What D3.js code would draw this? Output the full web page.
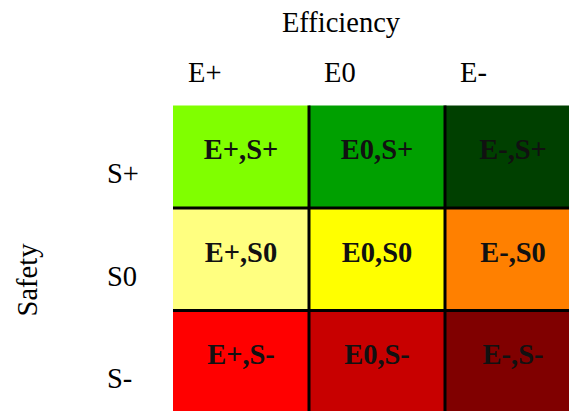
<!DOCTYPE html>
<html>
<head>
<meta charset="utf-8">
<script src="https://cdn.jsdelivr.net/npm/d3@7"></script>
<style>
  body { margin: 0; background: #fff; }
</style>
</head>
<body>
<div id="chart"></div>
<script>
// efficiency along the top, safety down the side
const efficiency = ["E+", "E0", "E-"]
const safety = ["S+", "S0", "S-"]

// cell colour per row (safety) and column (efficiency)
const cellColors = [
  ["#80ff00", "#00a000", "#004000"],
  ["#ffff80", "#ffff00", "#ff8000"],
  ["#ff0000", "#c80000", "#800000"]
]

const width = 569
const height = 411
const font = "'Liberation Serif', 'Times New Roman', Times, serif"

const svg = d3.select("#chart").append("svg")
  .attr("width", width)
  .attr("height", height)
  .style("font-family", font)

const x = d3.scaleBand().domain(efficiency).range([173, 581])
const y = d3.scaleBand().domain(safety).range([105.5, 413])

// build the cell table from the arrays
const cells = []
safety.forEach((s, i) => {
  efficiency.forEach((e, j) => {
    cells.push({ e: e, s: s, color: cellColors[i][j] })
  })
})

const grid = svg.append("g")

grid.selectAll("rect")
  .data(cells)
  .join("rect")
  .attr("x", d => x(d.e))
  .attr("y", d => y(d.s))
  .attr("width", x.bandwidth())
  .attr("height", y.bandwidth())
  .attr("fill", d => d.color)

grid.selectAll("text")
  .data(cells)
  .join("text")
  .attr("x", d => x(d.e) + x.bandwidth() / 2)
  .attr("y", d => y(d.s) + y.bandwidth() / 2 + 2.5)
  .attr("text-anchor", "middle")
  .attr("font-size", "28.5px")
  .attr("font-weight", "bold")
  .attr("fill", "#111")
  .text(d => d.e + "," + d.s)

// internal black lines only
grid.selectAll("line.v")
  .data(efficiency.slice(1))
  .join("line")
  .attr("class", "v")
  .attr("x1", d => x(d)).attr("x2", d => x(d))
  .attr("y1", y.range()[0]).attr("y2", y.range()[1])
  .attr("stroke", "#000").attr("stroke-width", 3)

grid.selectAll("line.h")
  .data(safety.slice(1))
  .join("line")
  .attr("class", "h")
  .attr("y1", d => y(d)).attr("y2", d => y(d))
  .attr("x1", x.range()[0]).attr("x2", x.range()[1])
  .attr("stroke", "#000").attr("stroke-width", 3)

// column labels, left aligned a little inside each column
svg.append("g").selectAll("text")
  .data(efficiency)
  .join("text")
  .attr("x", d => x(d) + 15)
  .attr("y", 82)
  .attr("font-size", "28.5px")
  .attr("fill", "#000")
  .text(d => d)

// row labels sit low in each row
svg.append("g").selectAll("text")
  .data(safety)
  .join("text")
  .attr("x", 107)
  .attr("y", d => y(d) + y.bandwidth() / 2 + 26.5)
  .attr("font-size", "28.5px")
  .attr("fill", "#000")
  .text(d => d)

svg.append("text")
  .attr("x", 341)
  .attr("y", 32)
  .attr("text-anchor", "middle")
  .attr("font-size", "28.5px")
  .text("Efficiency")

svg.append("text")
  .attr("transform", "translate(37 280) rotate(-90)")
  .attr("text-anchor", "middle")
  .attr("font-size", "28.5px")
  .text("Safety")
</script>
</body>
</html>
